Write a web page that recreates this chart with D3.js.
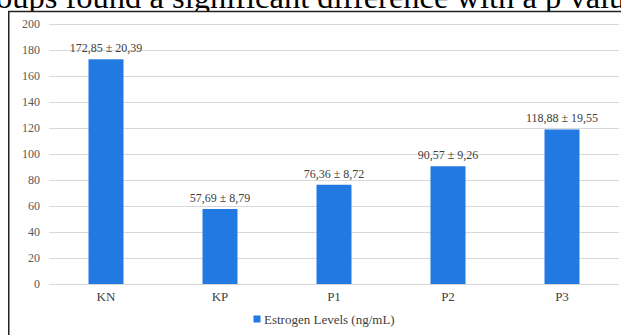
<!DOCTYPE html>
<html>
<head>
<meta charset="utf-8">
<script src="https://cdn.jsdelivr.net/npm/d3@7"></script>
<style>
  html, body { margin: 0; padding: 0; background: #fff; overflow: hidden; }
  svg { display: block; }
</style>
</head>
<body>
<svg id="chart" width="621" height="335"></svg>
<script>
// Estrogen levels per group (mean ± SD, ng/mL)
const groups = ["KN", "KP", "P1", "P2", "P3"];
const means = [172.85, 57.69, 76.36, 90.57, 118.88];
const sds = [20.39, 8.79, 8.72, 9.26, 19.55];
const yTicks = [0, 20, 40, 60, 80, 100, 120, 140, 160, 180, 200];
const seriesName = "Estrogen Levels (ng/mL)";
const captionText = "oups found a significant difference with a p valu";

const fmt = v => v.toFixed(2).replace(".", ",");

const svg = d3.select("#chart");
const serif = "'Liberation Serif', 'Times New Roman', serif";
const barColor = "#2279E2";

// Running text of the surrounding page
svg.append("text")
  .attr("x", -4).attr("y", 8)
  .attr("font-family", serif).attr("font-size", 32.5)
  .attr("fill", "#000")
  .text(captionText);

// Chart frame
svg.append("rect")
  .attr("x", 8.75).attr("y", 11.5)
  .attr("width", 640).attr("height", 360)
  .attr("fill", "#fff").attr("stroke", "#222").attr("stroke-width", 1.5);

const x = d3.scaleBand().domain(groups).range([49, 619])
  .paddingInner(0.693).paddingOuter(0.3465);
const y = d3.scaleLinear().domain([0, 200]).range([284, 24]);

// Gridlines
svg.append("g").selectAll("line").data(yTicks).join("line")
  .attr("x1", 49).attr("x2", 619)
  .attr("y1", d => Math.round(y(d)) + 0.5).attr("y2", d => Math.round(y(d)) + 0.5)
  .attr("stroke", "#d9d9d9").attr("stroke-width", 1);

// Y axis labels
const yAxis = svg.append("g").attr("transform", "translate(40,0)")
  .call(d3.axisLeft(y).tickValues(yTicks).tickSize(0).tickPadding(0));
yAxis.select(".domain").remove();
yAxis.selectAll("text")
  .attr("font-family", serif).attr("font-size", 12).attr("fill", "#595959");

// Bars
svg.append("g").selectAll("rect").data(groups).join("rect")
  .attr("x", d => x(d))
  .attr("y", (d, i) => y(means[i]))
  .attr("width", x.bandwidth())
  .attr("height", (d, i) => y(0) - y(means[i]))
  .attr("fill", barColor);

// Value labels
svg.append("g").selectAll("text").data(groups).join("text")
  .attr("x", d => x(d) + x.bandwidth() / 2)
  .attr("y", (d, i) => y(means[i]) - 7)
  .attr("text-anchor", "middle")
  .attr("font-family", serif).attr("font-size", 12)
  .attr("fill", "#404040")
  .text((d, i) => `${fmt(means[i])} ± ${fmt(sds[i])}`);

// X axis category labels
const xAxis = svg.append("g").attr("transform", "translate(0,284)")
  .call(d3.axisBottom(x).tickSize(0).tickPadding(8));
xAxis.select(".domain").remove();
xAxis.selectAll("text")
  .attr("font-family", serif).attr("font-size", 13).attr("fill", "#404040");

// Legend
const legend = svg.append("g").attr("transform", "translate(257,319)");
legend.append("rect").attr("x", -3.5).attr("y", -3.5).attr("width", 7).attr("height", 7)
  .attr("fill", barColor);
legend.append("text").attr("x", 7).attr("y", 4.5)
  .attr("font-family", serif).attr("font-size", 13).attr("fill", "#404040")
  .text(seriesName);
</script>
</body>
</html>
